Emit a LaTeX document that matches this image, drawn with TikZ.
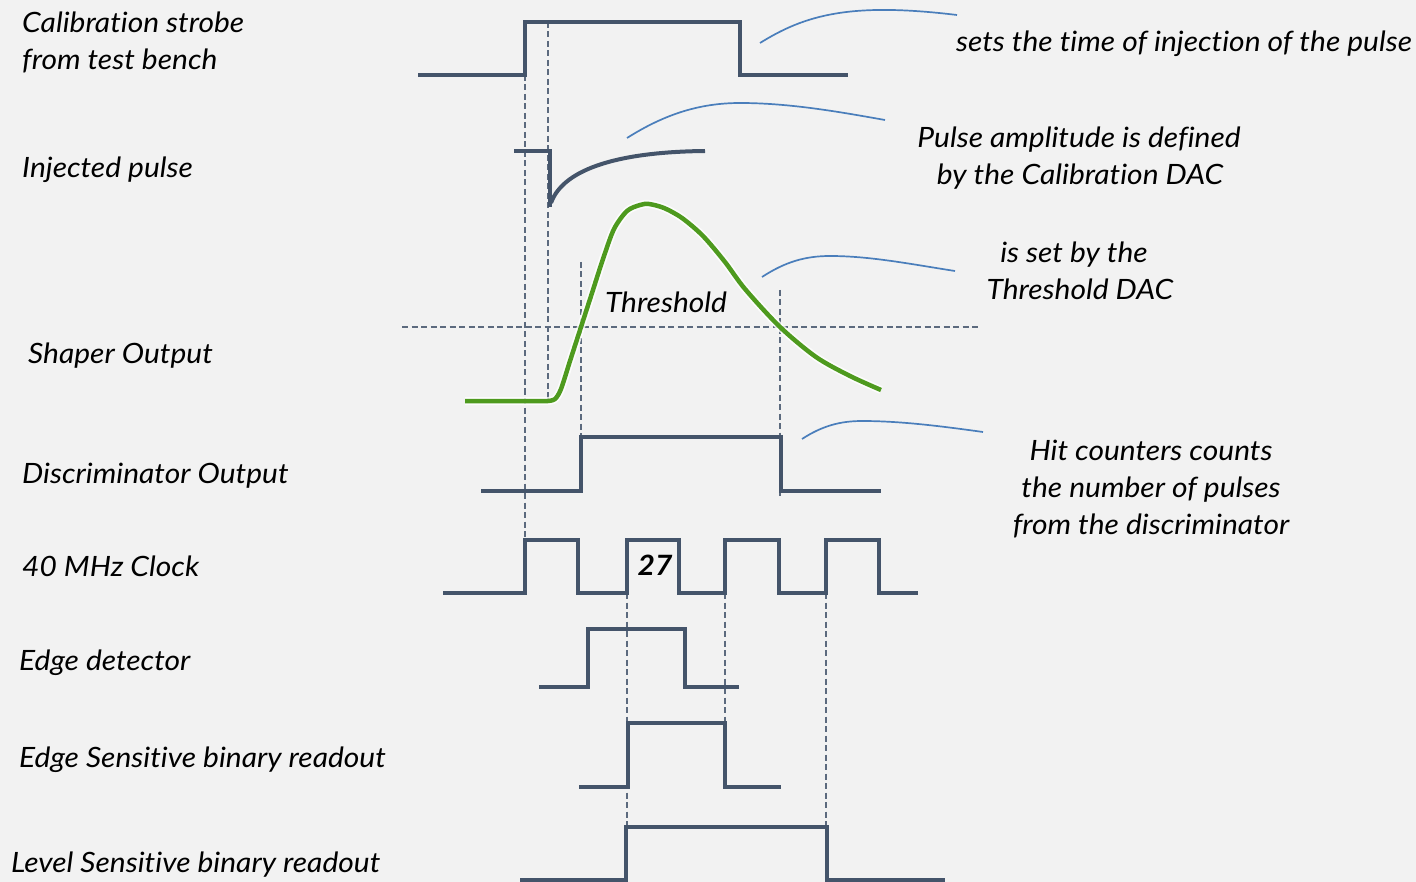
\documentclass[tikz,border=0pt]{standalone}
\usepackage{fontspec}
\setmainfont{Lato}[FakeStretch=1.07,RawFeature=-liga]
\definecolor{bgcol}{HTML}{F2F2F2}
\definecolor{sig}{HTML}{44546A}
\definecolor{callout}{HTML}{4A7EBB}
\definecolor{shaper}{HTML}{4E9A1E}
\definecolor{guide}{HTML}{5C6A7E}
\begin{document}
\begin{tikzpicture}[x=1pt,y=-1pt,
  signal/.style={draw=sig,line width=4pt,line join=miter},
  guideline/.style={draw=guide,line width=1.1pt,dash pattern=on 6pt off 3.5pt},
  calloutline/.style={draw=callout,line width=1.7pt},
  lbl/.style={font=\fontsize{28}{33}\selectfont\itshape,inner sep=0pt,anchor=base west},
  rlbl/.style={font=\fontsize{28}{33}\selectfont\itshape,inner sep=0pt,anchor=base}]
\fill[bgcol] (0,0) rectangle (1416,882);
\useasboundingbox (0,0) rectangle (1416,882);

% guide lines
\draw[guideline] (525,75) -- (525,540);
\draw[guideline] (548,22) -- (548,401);
\draw[guideline] (581,262) -- (581,437);
\draw[guideline] (780,290) -- (780,497);
\draw[guideline] (402,327) -- (978,327);
\draw[guideline] (627,593) -- (627,827);
\draw[guideline] (725,593) -- (725,723);
\draw[guideline] (826,593) -- (826,827);

% calibration strobe
\draw[signal] (418,75) -- (525,75) -- (525,22) -- (740,22) -- (740,75) -- (848,75);
% injected pulse
\draw[signal] (514,151) -- (550,151) -- (550,207);
\draw[signal,line cap=butt] (551,203) .. controls (562,172) and (610,152) .. (705,151);
% shaper output
\def\shapercurve{(465,401) -- (548,401)
  plot[smooth,tension=0.5] coordinates {(548,401) (555,399) (561,389) (570,361) (581,327) (592,293) (603,259) (614,229) (627,211) (640,205) (649,204) (664,208) (682,218) (703,236) (725,262) (745,289) (780,327) (816,357) (850,376) (881,390)}}
\draw[white,opacity=0.8,line width=8pt,line join=round] \shapercurve;
\draw[shaper,line width=4.5pt,line join=round] \shapercurve;
% discriminator
\draw[signal] (481,491) -- (581,491) -- (581,437) -- (781,437) -- (781,491) -- (881,491);
% clock
\draw[signal] (443,593) -- (525,593) -- (525,540) -- (578,540) -- (578,593) -- (627,593) -- (627,540) -- (679,540) -- (679,593) -- (725,593) -- (725,540) -- (779,540) -- (779,593) -- (826,593) -- (826,540) -- (879,540) -- (879,593) -- (918,593);
% edge detector
\draw[signal] (539,687) -- (588,687) -- (588,629) -- (685,629) -- (685,687) -- (739,687);
% edge sensitive
\draw[signal] (579,787) -- (628,787) -- (628,723) -- (725,723) -- (725,787) -- (781,787);
% level sensitive
\draw[signal] (520,880) -- (626,880) -- (626,827) -- (827,827) -- (827,880) -- (945,880);

% callouts
\draw[calloutline] (760,43) .. controls (805,15) and (850,2) .. (957,15);
\draw[calloutline] (627,138) .. controls (665,114) and (700,103) .. (740,103) .. controls (790,103) and (840,112) .. (885,120);
\draw[calloutline] (762,277) .. controls (785,262) and (805,256) .. (830,256) .. controls (870,256) and (910,264) .. (955,271);
\draw[calloutline] (802,439) .. controls (822,426) and (840,421) .. (862,421) .. controls (900,421) and (940,426) .. (983,432);

% left labels
\node[lbl] (l1a) at (22,33) {Calibration strobe};
\node[lbl] (l1b) at (22,70) {from test bench};
\node[lbl] (l2) at (22,178) {Injected pulse};
\node[lbl] (l3) at (28,363) {Shaper Output};
\node[lbl] (l4) at (22,483) {Discriminator Output};
\node[lbl] (l5) at (22,576) {40 MHz Clock};
\node[lbl] (l6) at (19,670) {Edge detector};
\node[lbl] (l7) at (19,767) {Edge Sensitive binary readout};
\node[lbl] (l8) at (11,872) {Level Sensitive binary readout};

% inner labels
\node[rlbl] (thr) at (666,313) {Threshold};
\node[rlbl,font=\fontsize{28}{33}\selectfont\bfseries\itshape] (n27) at (655,575) {27};

% right labels
\node[rlbl] (r1) at (1184,52) {sets the time of injection of the pulse};
\node[rlbl] (r2a) at (1079,148) {Pulse amplitude is defined};
\node[rlbl] (r2b) at (1080,185) {by the Calibration DAC};
\node[rlbl] (r3a) at (1074,263) {is set by the};
\node[rlbl] (r3b) at (1080,300) {Threshold DAC};
\node[rlbl] (r4a) at (1151,460) {Hit counters counts};
\node[rlbl] (r4b) at (1151,497) {the number of pulses};
\node[rlbl] (r4c) at (1151,534) {from the discriminator};
\end{tikzpicture}
\end{document}
